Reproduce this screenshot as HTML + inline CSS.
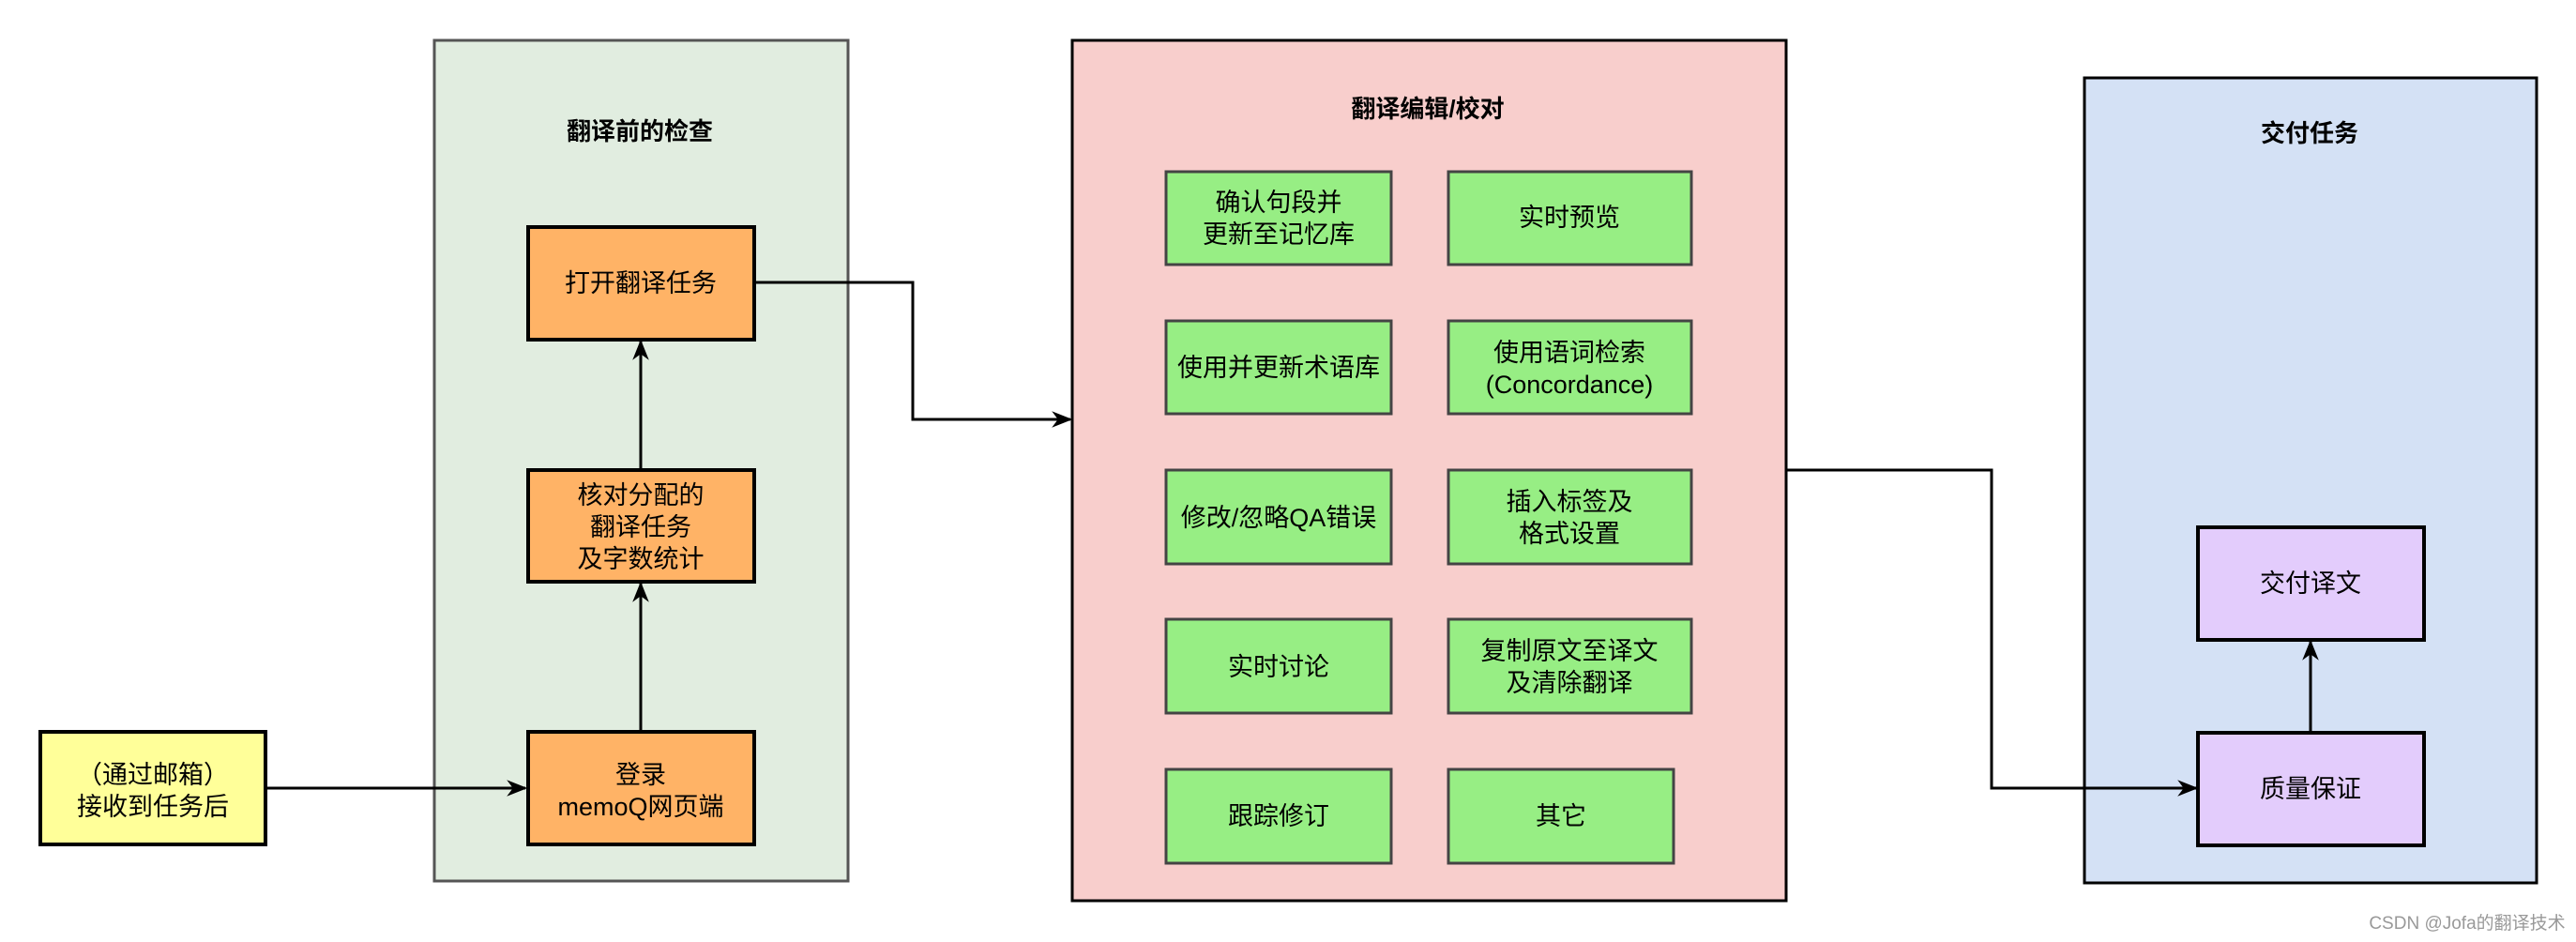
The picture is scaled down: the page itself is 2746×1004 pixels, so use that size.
<!DOCTYPE html>
<html><head><meta charset="utf-8"><style>
html,body{margin:0;padding:0;background:#fff;}
svg{display:block;}
text{font-family:"Liberation Sans","Noto Sans CJK SC",sans-serif;font-size:27px;fill:#000;text-anchor:middle;}
.t{font-weight:bold;font-size:26px;}
</style></head><body>
<svg width="2746" height="1004" viewBox="0 0 2746 1004" xmlns="http://www.w3.org/2000/svg">
<defs><marker id="a" markerWidth="12" markerHeight="12" refX="10" refY="6" orient="auto" markerUnits="userSpaceOnUse"><path d="M0,0 L12,6 L0,12 L4,6 Z" fill="#000"/></marker>
<marker id="b" viewBox="0 0 20 20" markerWidth="22" markerHeight="22" refX="18" refY="10" orient="auto" markerUnits="userSpaceOnUse"><path d="M0,2 L20,10 L0,18 L6,10 Z" fill="#000"/></marker></defs>

<!-- containers -->
<rect x="463" y="43" width="441" height="896" fill="#E1EDE0" stroke="#555" stroke-width="3"/>
<text class="t" x="682" y="149">翻译前的检查</text>
<rect x="1143" y="43" width="761" height="917" fill="#F8CECC" stroke="#000" stroke-width="3"/>
<text class="t" x="1522" y="125">翻译编辑/校对</text>
<rect x="2222" y="83" width="482" height="858" fill="#D4E1F5" stroke="#000" stroke-width="3"/>
<text class="t" x="2462" y="151">交付任务</text>

<!-- connectors -->
<g stroke="#000" stroke-width="3" fill="none">
<path d="M283,840 L560,840" marker-end="url(#b)"/>
<path d="M683,779 L683,622" marker-end="url(#b)"/>
<path d="M683,501 L683,364" marker-end="url(#b)"/>
<path d="M804,301 L973,301 L973,447 L1141,447" marker-end="url(#b)"/>
<path d="M1904,501 L2123,501 L2123,840 L2341,840" marker-end="url(#b)"/>
<path d="M2463,780 L2463,684" marker-end="url(#b)"/>
</g>

<!-- left -->
<rect x="43" y="780" width="240" height="120" fill="#FFFF99" stroke="#000" stroke-width="4"/>
<text x="163" y="835">（通过邮箱）</text><text x="163" y="869">接收到任务后</text>
<g fill="#FFB366" stroke="#000" stroke-width="4">
<rect x="563" y="242" width="241" height="120"/>
<rect x="563" y="501" width="241" height="119"/>
<rect x="563" y="780" width="241" height="120"/>
</g>
<text x="683" y="311">打开翻译任务</text>
<text x="683" y="537">核对分配的</text><text x="683" y="571">翻译任务</text><text x="683" y="605">及字数统计</text>
<text x="683" y="835">登录</text><text x="683" y="869">memoQ网页端</text>

<!-- middle -->
<g fill="#97EE84" stroke="#444" stroke-width="3">
<rect x="1243" y="183" width="240" height="99"/><rect x="1544" y="183" width="259" height="99"/>
<rect x="1243" y="342" width="240" height="99"/><rect x="1544" y="342" width="259" height="99"/>
<rect x="1243" y="501" width="240" height="100"/><rect x="1544" y="501" width="259" height="100"/>
<rect x="1243" y="660" width="240" height="100"/><rect x="1544" y="660" width="259" height="100"/>
<rect x="1243" y="820" width="240" height="100"/><rect x="1544" y="820" width="240" height="100"/>
</g>
<text x="1363" y="225">确认句段并</text><text x="1363" y="259">更新至记忆库</text>
<text x="1673" y="241">实时预览</text>
<text x="1363" y="401">使用并更新术语库</text>
<text x="1673" y="385">使用语词检索</text><text x="1673" y="419">(Concordance)</text>
<text x="1363" y="561">修改/忽略QA错误</text>
<text x="1673" y="544">插入标签及</text><text x="1673" y="578">格式设置</text>
<text x="1363" y="720">实时讨论</text>
<text x="1673" y="703">复制原文至译文</text><text x="1673" y="737">及清除翻译</text>
<text x="1363" y="879">跟踪修订</text>
<text x="1664" y="879">其它</text>

<!-- right -->
<g fill="#E3CCFC" stroke="#000" stroke-width="4">
<rect x="2343" y="562" width="241" height="120"/>
<rect x="2343" y="781" width="241" height="120"/>
</g>
<text x="2463" y="631">交付译文</text>
<text x="2463" y="850">质量保证</text>

<text x="2630" y="990" style="font-size:19px;fill:#999;">CSDN @Jofa的翻译技术</text>
</svg>
</body></html>
